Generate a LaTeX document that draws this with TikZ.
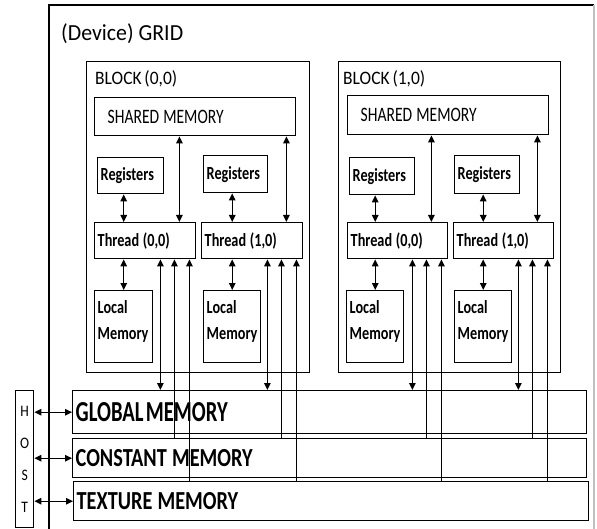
\documentclass[tikz,border=0pt]{standalone}
\usepackage{fontspec}
\setmainfont{Carlito}
\newfontfamily\titlefam{Carlito}[FakeStretch=0.95]
\newfontfamily\blockfam{Carlito}[FakeStretch=0.92]
\newfontfamily\sharedfam{Carlito}[FakeStretch=0.76]
\newfontfamily\smallfam{Carlito}[FakeStretch=0.77]
\newfontfamily\globfam{Carlito}[FakeStretch=0.71]
\newfontfamily\memfam{Carlito}[FakeStretch=0.78]
\newfontfamily\hostfam{Carlito}[FakeStretch=0.85]
\newcommand\wordgap[1]{\spaceskip=#1\relax}
\usetikzlibrary{arrows.meta}

\tikzset{
  >={Triangle[length=7bp,width=6.5bp]},
  box/.style={draw, line width=1.4bp, anchor=north west, inner xsep=3bp, inner ysep=0pt, align=flush left},
  blockbox/.style={draw, line width=1.4bp, anchor=north west, inner sep=0pt},
  link/.style={line width=1.3bp},
  titlefont/.style={font={\titlefam\fontsize{23bp}{27bp}\selectfont}},
  blockfont/.style={font={\blockfam\fontsize{19bp}{22bp}\selectfont\wordgap{0.15em}}},
  sharedfont/.style={font={\sharedfam\fontsize{20.5bp}{24bp}\selectfont\wordgap{0.2em}}},
  smallfont/.style={font={\smallfam\fontsize{18.5bp}{26bp}\selectfont\bfseries\wordgap{0.2em}}},
  globfont/.style={font={\globfam\fontsize{29bp}{33bp}\selectfont\bfseries\wordgap{0.08em}}},
  memfont/.style={font={\memfam\fontsize{26bp}{30bp}\selectfont\bfseries\wordgap{0.2em}}},
  hostfont/.style={font={\hostfam\fontsize{16bp}{32bp}\selectfont}},
}

\begin{document}
\begin{tikzpicture}[x=1bp, y=-1bp]
  \useasboundingbox (0,0) rectangle (597,529);

  % grid frame
  \draw[line width=1.4bp] (49,529) -- (49,5) -- (594,5);
  \draw[line width=1.4bp, gray!50] (594,5) -- (594,529);
  \node[titlefont, anchor=west, inner sep=0pt] (gridlbl) at (61,34) {(Device) GRID};

  % block (0,0)
  \node[blockbox, minimum width=223bp, minimum height=311bp] (blkA) at (86,61) {};
  \node[blockfont, anchor=west, inner sep=0pt] (blkAlbl) at (95,79) {BLOCK (0,0)};
  \node[box, sharedfont, inner xsep=13bp, text width=175bp, minimum height=38bp] (shA) at (94,97) {SHARED MEMORY};
  \node[box, smallfont, text width=60bp, minimum height=36bp] (rA1) at (97,157) {Registers};
  \node[box, smallfont, text width=58bp, minimum height=37bp] (rA2) at (203,155) {Registers};
  \node[box, smallfont, text width=95bp, minimum height=36bp] (tA1) at (94,222) {Thread (0,0)};
  \node[box, smallfont, text width=95bp, minimum height=36bp] (tA2) at (201,222) {Thread (1,0)};
  \node[box, smallfont, text width=52bp, minimum height=72bp, text depth=40bp] (lA1) at (94,290) {Local\\Memory};
  \node[box, smallfont, text width=51bp, minimum height=72bp, text depth=40bp] (lA2) at (203,290) {Local\\Memory};

  % block (1,0)
  \node[blockbox, minimum width=222bp, minimum height=311bp] (blkB) at (338,61) {};
  \node[blockfont, anchor=west, inner sep=0pt] (blkBlbl) at (343,79) {BLOCK (1,0)};
  \node[box, sharedfont, inner xsep=13bp, text width=175bp, minimum height=39bp] (shB) at (347,95) {SHARED MEMORY};
  \node[box, smallfont, text width=59bp, minimum height=37bp] (rB1) at (349,157) {Registers};
  \node[box, smallfont, text width=59bp, minimum height=38bp] (rB2) at (454,155) {Registers};
  \node[box, smallfont, text width=94bp, minimum height=36bp] (tB1) at (347,222) {Thread (0,0)};
  \node[box, smallfont, text width=94bp, minimum height=36bp] (tB2) at (453,222) {Thread (1,0)};
  \node[box, smallfont, text width=51bp, minimum height=72bp, text depth=40bp] (lB1) at (346,290) {Local\\Memory};
  \node[box, smallfont, text width=51bp, minimum height=72bp, text depth=40bp] (lB2) at (454,290) {Local\\Memory};

  % device memories and host
  \node[box, globfont, text width=508bp, minimum height=43bp] (glob) at (72,390) {GLOBAL MEMORY};
  \node[box, memfont, text width=508bp, minimum height=39bp] (const) at (72,438) {CONSTANT MEMORY};
  \node[box, memfont, text width=509bp, minimum height=39bp] (tex) at (73,481) {TEXTURE MEMORY};
  \node[box, hostfont, align=center, inner xsep=0pt,
        minimum width=18bp, minimum height=137bp] (host) at (15,390) {H\\O\\S\\T};

  % thread (0,0) of block (0,0)
  \draw[link, <->] (rA1.south -| lA1.north) -- (tA1.north -| lA1.north);
  \draw[link, <->] ([xshift=-17bp]tA1.north east |- shA.south) -- ([xshift=-17bp]tA1.north east);
  \draw[link, <->] (tA1.south -| lA1.north) -- (lA1.north);
  \draw[link, <->] ([xshift=-36bp]tA1.south east) -- ([xshift=-36bp]tA1.south east |- glob.north);
  \draw[link, <-] ([xshift=-22bp]tA1.south east) -- ([xshift=-22bp]tA1.south east |- const.north);
  \draw[link, <-] ([xshift=-7bp]tA1.south east) -- ([xshift=-7bp]tA1.south east |- tex.north);

  % thread (1,0) of block (0,0)
  \draw[link, <->] (rA2.south -| lA2.north) -- (tA2.north -| lA2.north);
  \draw[link, <->] ([xshift=-17bp]tA2.north east |- shA.south) -- ([xshift=-17bp]tA2.north east);
  \draw[link, <->] (tA2.south -| lA2.north) -- (lA2.north);
  \draw[link, <->] ([xshift=-36bp]tA2.south east) -- ([xshift=-36bp]tA2.south east |- glob.north);
  \draw[link, <-] ([xshift=-22bp]tA2.south east) -- ([xshift=-22bp]tA2.south east |- const.north);
  \draw[link, <-] ([xshift=-7bp]tA2.south east) -- ([xshift=-7bp]tA2.south east |- tex.north);

  % thread (0,0) of block (1,0)
  \draw[link, <->] (rB1.south -| lB1.north) -- (tB1.north -| lB1.north);
  \draw[link, <->] ([xshift=-17bp]tB1.north east |- shB.south) -- ([xshift=-17bp]tB1.north east);
  \draw[link, <->] (tB1.south -| lB1.north) -- (lB1.north);
  \draw[link, <->] ([xshift=-36bp]tB1.south east) -- ([xshift=-36bp]tB1.south east |- glob.north);
  \draw[link, <-] ([xshift=-22bp]tB1.south east) -- ([xshift=-22bp]tB1.south east |- const.north);
  \draw[link, <-] ([xshift=-7bp]tB1.south east) -- ([xshift=-7bp]tB1.south east |- tex.north);

  % thread (1,0) of block (1,0)
  \draw[link, <->] (rB2.south -| lB2.north) -- (tB2.north -| lB2.north);
  \draw[link, <->] ([xshift=-17bp]tB2.north east |- shB.south) -- ([xshift=-17bp]tB2.north east);
  \draw[link, <->] (tB2.south -| lB2.north) -- (lB2.north);
  \draw[link, <->] ([xshift=-36bp]tB2.south east) -- ([xshift=-36bp]tB2.south east |- glob.north);
  \draw[link, <-] ([xshift=-22bp]tB2.south east) -- ([xshift=-22bp]tB2.south east |- const.north);
  \draw[link, <-] ([xshift=-7bp]tB2.south east) -- ([xshift=-7bp]tB2.south east |- tex.north);

  % host links
  \draw[link, <->] (host.east |- glob.west) -- (glob.west);
  \draw[link, <->] (host.east |- const.west) -- (const.west);
  \draw[link, <->] (host.east |- tex.west) -- (tex.west);
\end{tikzpicture}
\end{document}
